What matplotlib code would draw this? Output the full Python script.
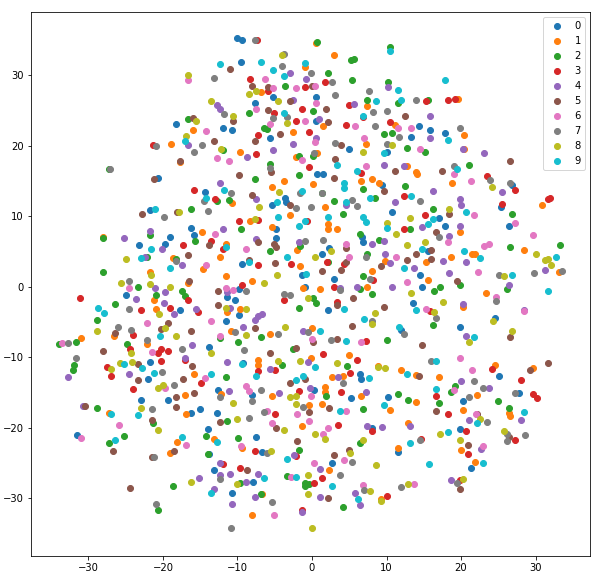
import matplotlib
matplotlib.use("Agg")
import matplotlib.pyplot as plt

labels = [str(i) for i in range(10)]

class0 = [(-10.0,35.3),(-9.4,35.0),(-9.5,31.9),(-7.6,26.1),(-5.2,27.0),(-18.2,23.1),(-11.9,22.5),(-10.7,22.2),(-5.7,21.1),(-20.6,15.4),(-14.3,13.4),(-5.3,11.6),(-3.6,12.6),(-3.5,12.0),(-21.7,10.9),(-16.2,8.3),(-15.8,7.4),(-19.0,7.0),(-19.7,6.1),(-23.2,5.9),(-4.8,8.2),(-4.8,6.9),(-9.4,3.2),(-1.3,1.7),(-1.0,0.0),
(-25.0,-1.2),(-9.8,-0.3),(-11.4,-1.5),(-10.3,-1.9),(-17.7,-3.3),(-9.8,-4.0),(-11.5,-4.9),(-13.8,-8.6),(-21.8,-10.7),(-22.0,-13.1),(-12.6,-14.7),(-8.1,-15.4),(-22.9,-16.1),(-19.3,-16.1),(-15.0,-17.4),(-16.3,-17.9),(-12.8,-17.9),(-13.9,-20.2),(-7.5,-21.3),(-13.8,-23.7),(-6.7,-23.5),(-13.2,-26.0),(-7.9,-27.7),(-10.7,-29.3),(-9.2,-10.8),(0.3,-14.7),(-31.5,-21.0),
(0.6,26.9),(0.6,23.6),(14.4,22.8),(15.9,22.2),(13.3,21.2),(17.8,21.8),(5.0,19.5),(10.1,19.1),(0.7,16.0),(1.5,16.0),(9.4,14.4),(10.8,10.6),(17.0,9.7),(17.8,8.7),(26.4,8.6),(25.3,11.3),(26.8,14.4),(6.7,7.0),(6.8,6.3),(1.3,4.6),(15.5,5.1),(2.9,1.1),(14.5,1.7),(2.3,5.5),
(2.1,-3.3),(14.8,0.0),(13.5,-2.3),(11.9,-6.1),(19.9,-5.7),(24.6,-4.4),(25.1,-12.7),(6.4,-12.4),(6.6,-13.1),(5.3,-15.8),(10.2,-15.7),(20.2,-16.2),(27.8,-15.1),(19.9,-20.2),(8.0,-20.1),(11.6,-23.5),(2.7,-25.0),(21.4,-25.7)]

class1 = [(-0.9,31.2),(-6.8,27.6),(-2.6,21.9),(-18.9,20.2),(-15.9,22.2),(-9.6,19.1),(-2.2,18.4),(-17.7,17.7),(-5.3,14.1),(-3.8,15.0),(0.2,14.6),(-10.7,11.9),(-3.0,10.2),(-8.3,9.3),(-5.4,8.5),(-14.7,7.8),(-28.1,7.0),(-11.5,6.1),(-12.4,4.3),(-18.7,4.1),(-2.0,5.2),(-1.6,2.9),(-21.7,2.1),(-14.6,2.5),(-11.5,1.5),(-8.1,0.8),(-16.7,0.5),
(-21.2,-1.9),(-20.9,-3.2),(-11.4,-3.6),(-9.6,-3.2),(-10.8,-6.3),(-31.0,-7.3),(-26.5,-7.0),(-22.1,-8.1),(-5.6,-6.7),(0.0,-5.9),(-0.1,-10.1),(-7.3,-10.4),(-7.3,-11.1),(-15.8,-12.4),(-12.2,-15.2),(-17.0,-15.4),(-5.3,-15.5),(-0.4,-16.8),(-27.2,-17.9),(-16.9,-18.1),(-1.4,-19.8),(-13.1,-21.6),(-18.1,-22.0),(-9.4,-22.9),(-19.1,-23.6),(-6.7,-29.4),(-8.0,-32.4),(-1.2,-0.2),
(0.6,34.6),(2.9,32.9),(7.4,25.6),(1.5,22.8),(11.1,22.9),(20.4,21.5),(7.2,20.2),(20.4,19.5),(0.7,19.0),(12.7,17.1),(14.0,16.3),(14.1,16.0),(6.6,15.0),(8.0,15.3),(9.0,14.8),(18.8,14.8),(1.8,11.3),(30.8,11.6),(19.6,26.6),(2.1,8.9),(2.1,8.2),(3.4,8.2),(19.8,7.8),(28.4,5.2),(21.5,4.6),(21.9,4.6),(18.7,4.3),(9.8,3.6),(15.3,3.5),(8.0,2.2),(15.5,0.9),(33.2,2.1),
(1.1,-0.3),(7.4,0.0),(23.4,-0.9),(20.2,-2.9),(5.0,-9.7),(8.9,-11.3),(12.0,-11.8),(14.0,-12.5),(17.0,-12.8),(24.5,-11.1),(29.7,-11.5),(4.1,-12.7),(2.7,-12.8),(1.8,-14.2),(1.8,-14.9),(6.6,-15.5),(1.4,-16.6),(10.4,-17.5),(14.0,-16.4),(22.2,-15.4),(20.3,-17.5),(26.4,-17.9),(26.6,-18.4),(12.9,-19.3),(11.5,-22.9),(20.0,-23.2),(2.3,-26.0),(21.9,-24.9),(9.3,-30.1)]

class2 = [(-3.6,28.5),(0.2,24.9),(-8.4,24.6),(-16.7,23.8),(-6.5,22.6),(-6.0,22.4),(-1.7,18.5),(0.2,18.5),(-12.0,19.4),(-5.7,17.4),(-27.2,16.7),(-7.7,15.3),(-1.7,15.8),(-12.7,12.2),(-11.2,12.3),(-16.3,11.0),(-9.5,8.2),(-21.8,7.3),(-28.1,6.9),(-15.7,6.5),(-5.7,5.1),(-1.6,5.8),(-22.1,4.2),(-18.2,3.9),(-28.1,2.1),
(-23.3,0.0),(-17.4,-0.6),(-17.1,-1.3),(-20.9,-1.2),(-26.4,-2.5),(-28.9,-4.7),(-1.8,-3.0),(0.2,-1.6),(-31.6,-7.8),(-34.0,-8.1),(-24.8,-8.1),(-6.9,-7.1),(-9.9,-7.8),(-12.4,-7.3),(-2.5,-8.8),(-4.0,-11.1),(-31.9,-11.1),(-32.0,-11.8),(-11.5,-12.8),(-28.9,-17.2),(-11.4,-19.1),(-21.3,-19.3),(-14.2,-21.2),(-25.2,-21.2),(-27.3,-22.2),(-9.9,-21.5),(-1.8,-23.2),(-14.0,-23.7),(-3.3,-26.9),(-9.6,-27.8),(-1.0,-27.9),(-0.9,-28.3),(-0.4,-28.0),(-18.6,-28.3),(-6.9,-29.4),(-20.6,-31.7),
(0.7,34.8),(10.5,34.0),(5.3,32.2),(5.7,32.3),(2.2,30.3),(5.4,29.3),(10.2,29.0),(7.4,26.5),(11.5,26.1),(15.6,26.5),(9.7,21.7),(10.8,21.8),(12.7,19.7),(15.2,19.2),(21.1,17.3),(12.5,14.3),(6.8,13.9),(1.3,13.3),(2.9,12.2),(8.4,12.6),(4.2,10.3),(16.2,11.0),(26.8,10.3),(13.1,8.2),(6.4,7.5),(9.0,6.6),(26.5,5.6),(33.3,5.9),(7.4,4.6),(2.2,3.5),(6.9,1.5),
(0.6,-2.3),(6.5,-0.3),(8.1,-1.0),(16.4,-0.6),(17.2,0.0),(19.9,0.3),(26.2,-0.3),(16.2,-5.4),(10.1,-7.6),(4.7,-11.3),(1.9,-15.5),(11.5,-15.2),(12.9,-16.1),(6.9,-17.4),(17.0,-16.5),(19.2,-14.1),(18.6,-14.9),(24.9,-16.2),(26.4,-17.2),(6.5,-22.2),(4.1,-31.3)]

class3 = [(-7.4,35.0),(-8.3,29.5),(-5.9,27.8),(-0.9,28.3),(-1.4,25.2),(-5.1,24.6),(-2.2,23.5),(-0.4,21.9),(-7.3,21.5),(-21.3,20.1),(-7.5,18.8),(-0.4,17.0),(-15.8,13.7),(-13.0,12.4),(-9.8,9.3),(-7.2,9.5),(-0.7,9.3),(-13.5,6.5),(-17.3,5.9),(-11.9,5.3),(-7.2,3.1),(-2.8,3.2),(-9.4,0.2),
(-31.1,-1.6),(-16.7,-1.8),(-19.1,-3.0),(-22.9,-3.3),(-15.3,-3.6),(-3.8,-1.9),(-24.0,-6.9),(-24.4,-8.8),(-20.2,-8.8),(-20.6,-9.4),(-19.3,-9.1),(-20.2,-10.5),(-27.5,-11.4),(-26.9,-12.7),(-17.0,-10.4),(-7.2,-12.0),(-4.9,-11.8),(-14.9,-13.7),(-24.0,-14.5),(-1.8,-14.8),(-4.9,-18.1),(-11.9,-25.2),(-7.6,-23.3),(-2.2,-24.0),(-9.6,-25.7),(0.3,-27.9),(-1.4,-31.7),
(1.8,29.0),(4.9,25.8),(15.3,26.3),(18.3,26.5),(19.2,26.6),(6.8,24.1),(10.4,23.4),(4.5,22.9),(23.5,15.7),(6.6,16.1),(27.3,13.7),(12.4,12.9),(31.6,12.4),(31.9,12.6),(25.5,11.7),(15.1,10.2),(12.4,8.2),(2.0,3.5),(4.3,3.2),(8.2,0.9),
(2.9,0.0),(3.4,-2.2),(15.9,-3.4),(1.5,-9.6),(6.1,-10.4),(7.2,-7.7),(5.1,-12.2),(3.9,-14.9),(16.7,-15.5),(24.2,-11.7),(28.0,-13.2),(29.6,-15.2),(30.2,-15.8),(18.2,-18.1),(3.5,-19.6),(8.0,-20.5),(20.6,-20.5),(27.2,-21.8),(14.6,-21.6),(20.9,-23.7),(1.3,-27.1),(19.9,-27.4),(10.1,-29.7)]

class4 = [(-2.9,30.3),(-0.8,29.5),(-2.5,26.5),(-12.7,25.8),(-12.3,25.2),(-16.7,20.1),(-2.5,20.2),(-5.2,19.4),(-8.7,18.4),(-12.4,14.7),(-7.5,12.4),(-21.8,7.9),(-25.2,6.9),(-11.9,8.2),(-7.5,6.8),(-1.7,6.3),(-20.1,5.3),(-22.4,4.3),(-17.4,3.1),
(-21.0,-0.2),(-19.7,-0.8),(-11.4,-0.8),(-23.6,-1.7),(-19.8,-2.3),(-11.0,-3.0),(-15.5,-3.2),(-18.5,-3.9),(-6.7,-3.9),(-7.2,-4.2),(-7.7,-4.7),(-9.2,-5.7),(-1.2,-6.3),(-16.1,-8.3),(-17.1,-10.1),(-11.4,-10.7),(-0.6,-10.7),(-5.6,-11.7),(-24.5,-12.4),(-32.8,-12.8),(-11.1,-14.8),(-4.4,-15.1),(-30.7,-16.9),(-12.4,-25.0),(-2.4,-23.9),(-15.1,-27.1),(-12.4,-26.7),(-11.0,-26.6),(-7.2,-26.6),(-8.8,-27.7),(-13.2,-28.7),(-7.6,-29.8),(-10.7,-30.8),(-1.4,-32.0),
(5.7,25.9),(10.2,28.3),(0.9,23.8),(15.9,24.3),(15.9,21.1),(0.6,21.1),(20.3,19.5),(23.1,19.0),(9.6,17.3),(12.4,17.1),(16.3,13.6),(25.5,13.4),(19.8,12.4),(20.0,11.6),(11.2,12.0),(4.5,11.6),(14.8,8.5),(19.8,8.6),(18.4,7.2),(8.1,6.1),(9.6,6.5),(9.8,4.6),(10.5,3.4),(17.6,3.6),(20.7,3.5),(13.7,2.6),(31.2,2.4),(18.4,1.9),
(6.0,0.0),(3.8,-0.2),(10.8,0.0),(26.4,0.2),(20.3,-2.5),(28.4,-3.3),(20.7,-7.0),(3.5,-12.8),(20.0,-13.4),(23.8,-14.4),(7.3,-14.9),(21.0,-18.9),(28.0,-18.9),(13.2,-19.8),(7.4,-19.8),(9.4,-19.9),(22.7,-23.0),(1.1,-25.9),(18.6,-27.4),(5.8,-29.3),(1.1,-29.8),(6.5,-31.0),(-0.3,-14.4)]

class5 = [(-11.0,30.9),(-8.0,28.5),(-5.9,28.3),(0.0,28.5),(-3.0,26.3),(-5.9,25.1),(-15.9,23.9),(-10.6,23.5),(-4.3,21.7),(-7.7,20.7),(-13.1,20.7),(-17.7,17.8),(-5.5,16.3),(-9.8,15.8),(-21.2,15.3),(-8.0,13.1),(-3.0,11.6),(-22.8,10.4),(-18.1,10.6),(-7.3,6.3),(-5.1,6.1),(-4.8,5.6),(-13.8,5.9),(-16.6,4.5),(-4.9,3.4),(-8.5,3.8),(-16.5,0.8),
(-12.6,-0.6),(-12.6,-2.6),(-19.3,-5.2),(-20.2,-6.0),(-16.2,-6.3),(-7.6,-5.9),(-26.4,-6.6),(-28.1,-9.1),(-5.7,-9.4),(-2.1,-8.7),(-23.3,-11.0),(-16.1,-11.3),(-23.3,-13.2),(-17.3,-13.1),(-0.9,-13.1),(-3.0,-13.7),(-18.3,-15.7),(-15.8,-15.1),(-18.2,-17.1),(-30.4,-16.9),(-21.4,-18.9),(-0.4,-17.8),(-4.8,-20.1),(-2.0,-21.9),(-18.5,-23.3),(-21.4,-24.2),(-26.7,-23.3),(-12.3,-19.2),(-8.7,-26.0),(-24.4,-28.6),(0.2,-7.9),
(1.9,25.3),(2.2,23.4),(12.5,24.2),(3.9,20.1),(3.1,18.1),(3.0,15.4),(11.1,16.5),(17.5,16.5),(26.5,17.8),(9.7,13.6),(18.4,10.4),(16.7,7.8),(16.0,5.2),(14.0,4.6),(12.7,3.8),(16.0,3.9),(4.6,5.5),(4.6,3.5),(9.3,2.9),(3.9,2.4),(1.4,2.2),(19.5,0.8),
(3.3,-2.6),(5.5,-1.6),(9.6,-2.9),(5.4,-5.6),(3.4,-7.4),(14.8,-8.3),(26.6,-7.1),(31.7,-10.8),(29.2,-11.8),(14.4,-12.7),(16.7,-17.6),(2.3,-17.2),(22.1,-18.1),(26.4,-21.3),(20.9,-22.5),(2.9,-23.9),(4.9,-23.2),(2.2,-30.0),(19.8,-28.7)]

class6 = [(-16.7,29.3),(-6.3,29.5),(-5.2,28.2),(-2.2,28.2),(0.4,28.5),(-7.5,25.2),(-1.0,23.6),(-5.6,23.1),(-14.2,22.1),(-12.8,18.3),(-11.1,17.8),(-1.3,18.0),(-13.0,7.5),(-8.9,5.3),(-14.2,3.1),(0.4,20.5),
(-24.5,-0.2),(-11.6,-0.2),(-10.6,-0.5),(-22.2,-5.2),(-13.6,-4.9),(-33.5,-8.0),(-12.3,-7.0),(-21.4,-9.3),(0.0,-7.4),(-14.3,-13.0),(-19.7,-14.4),(-8.8,-14.1),(-8.4,-14.8),(-0.1,-15.5),(-6.0,-17.6),(-2.0,-18.1),(-5.3,-19.3),(-0.4,-19.1),(-25.9,-19.6),(-31.0,-21.5),(-16.9,-22.5),(-9.5,-22.6),(0.3,-25.0),(-2.8,-27.0),(-5.1,-32.4),
(0.6,26.1),(5.8,22.8),(11.6,22.6),(13.3,22.6),(7.0,21.1),(14.5,19.5),(7.3,17.1),(19.1,16.0),(21.3,15.0),(21.8,10.2),(27.2,9.0),(29.7,7.3),(23.1,5.8),(23.8,6.1),(18.2,6.3),(4.5,6.1),(4.9,4.3),(11.3,4.3),(22.3,2.1),(12.7,0.7),
(24.7,-1.5),(15.3,-3.2),(28.4,-3.5),(6.6,-7.9),(19.9,-10.1),(21.5,-11.8),(19.1,-14.7),(4.5,-17.6),(22.0,-18.1),(2.2,-20.1),(1.5,-20.9),(22.9,-22.6),(4.3,-24.6),(6.8,-28.1),(13.7,-28.0)]

class7 = [(-7.7,35.0),(-3.8,33.1),(-4.0,31.4),(-0.1,30.3),(-13.1,29.7),(-11.8,24.5),(-5.2,23.9),(-3.4,24.1),(-14.7,20.1),(-20.9,20.0),(-15.8,19.1),(-5.7,16.8),(-10.8,13.3),(-1.6,13.3),(-14.5,12.2),(-14.0,10.7),(-2.1,11.2),(-0.2,11.3),(-19.8,9.9),(-1.0,6.5),(-18.2,3.6),(-24.5,0.8),(0.3,19.0),(-27.1,16.7),
(-8.9,-0.6),(-3.7,-1.0),(-2.9,-1.2),(-24.5,-3.2),(-26.0,-5.7),(-24.3,-6.1),(-10.3,-6.4),(-0.6,-6.4),(-4.5,-6.7),(-32.7,-8.0),(-22.2,-7.6),(-17.4,-8.8),(-9.1,-9.0),(-31.6,-10.1),(-20.1,-12.1),(-18.5,-14.0),(-6.8,-14.7),(-12.3,-15.7),(-8.0,-16.2),(-21.4,-17.4),(-6.4,-17.8),(-1.2,-17.1),(-8.5,-18.6),(-6.0,-23.6),(-21.2,-24.2),(-12.3,-27.3),(-20.9,-30.8),(-5.3,-30.5),(-10.8,-34.2),
(2.7,29.0),(7.6,27.8),(3.1,27.2),(13.9,26.5),(8.2,24.8),(10.0,24.9),(8.4,22.8),(19.8,22.5),(11.7,21.2),(3.1,20.4),(10.0,20.2),(19.1,17.1),(23.9,15.1),(26.6,14.8),(1.4,13.3),(5.4,12.3),(6.0,11.4),(14.5,12.2),(17.0,7.0),(1.5,6.6),(7.3,4.3),(25.1,1.7),(29.8,1.9),(33.5,2.2),(7.8,1.1),
(3.8,-0.5),(24.7,-2.0),(16.7,-4.4),(8.0,-4.9),(12.4,-6.7),(2.6,-7.6),(16.0,-10.5),(21.8,-13.4),(23.0,-14.4),(27.2,-15.1),(21.1,-15.7),(4.2,-13.7),(23.5,-19.2),(26.1,-20.9),(26.1,-21.9),(28.6,-21.0),(14.5,-21.8),(5.4,-24.9),(3.8,-26.7),(19.4,-27.8),(7.0,-28.8),(12.0,-28.4)]

class8 = [(-4.0,32.9),(-16.6,30.0),(-7.5,27.8),(-8.4,27.3),(-4.5,26.3),(-13.6,26.3),(-10.6,24.3),(-15.5,23.6),(-3.4,23.2),(-16.9,21.4),(-12.2,19.5),(-4.4,13.4),(-7.1,11.3),(-17.9,10.6),(-7.6,9.6),(-24.9,3.9),(0.4,4.3),(-21.6,1.7),(-4.7,1.7),(-6.4,0.5),(-25.6,0.5),(-21.7,0.4),
(-19.0,0.0),(-0.6,-1.6),(-11.5,-3.0),(-8.8,-3.2),(-20.5,-3.9),(-28.8,-6.3),(-19.7,-5.9),(-18.2,-7.0),(-8.8,-6.9),(-3.6,-5.7),(-24.3,-9.4),(-13.6,-9.4),(-1.6,-10.5),(-4.5,-10.5),(-25.7,-10.8),(-24.1,-10.7),(-26.9,-11.7),(-20.6,-14.4),(-20.0,-14.0),(-3.0,-15.7),(-2.1,-15.5),(-2.1,-16.6),(-10.6,-16.5),(-22.9,-17.2),(-10.0,-18.8),(-20.6,-20.3),(-3.8,-20.3),(0.4,-20.9),(-5.5,-23.3),(-16.3,-27.7),(-10.0,-28.0),(-0.5,-26.7),(-0.5,-29.4),(0.0,-34.2),
(10.8,20.1),(6.9,19.2),(24.2,14.1),(18.4,11.0),(13.1,9.7),(10.1,9.0),(11.3,7.5),(15.2,6.3),(12.7,5.9),(2.6,5.1),(30.1,4.6),(31.3,3.8),(31.7,3.9),(32.1,3.1),(25.7,1.5),
(13.3,-0.9),(17.6,-2.2),(16.4,-3.6),(8.5,-3.7),(8.1,-5.3),(24.3,-4.9),(26.9,-6.3),(21.1,-7.9),(3.4,-10.8),(8.8,-11.4),(9.8,-11.5),(22.6,-18.8),(25.8,-20.5),(17.2,-20.9),(1.8,-21.6),(6.8,-21.8),(19.8,-21.8),(5.1,-23.6),(8.6,-25.3),(20.2,-27.3),(12.9,-28.0),(7.8,-29.0),(9.3,-30.4)]

class9 = [(-12.4,31.6),(-6.9,31.9),(-5.2,30.7),(-3.8,29.9),(-0.9,31.7),(-3.7,24.6),(-17.1,20.7),(-11.8,13.7),(-14.2,12.6),(-1.4,13.6),(-4.7,12.0),(-21.0,11.0),(-4.5,9.9),(-0.9,9.3),(-1.7,8.7),(-21.6,5.3),(-23.0,4.1),(-11.5,5.6),(-3.3,4.2),(-8.5,3.5),(-19.0,2.6),(-0.8,1.8),
(-28.7,-3.0),(-27.9,-3.7),(-20.4,-7.0),(-25.2,-11.0),(-22.8,-11.5),(-21.2,-12.3),(-9.4,-11.0),(-13.6,-12.4),(-7.5,-12.7),(-2.1,-13.2),(-1.2,-12.7),(0.4,-11.4),(-26.9,-18.1),(-23.4,-18.2),(-17.4,-21.3),(-26.4,-21.8),(-12.8,-22.0),(-3.3,-24.4),(-6.5,-27.1),(-2.1,-27.0),(-13.6,-29.3),
(17.9,29.3),(10.4,33.4),(11.5,27.9),(8.6,26.3),(12.0,26.5),(6.9,24.2),(18.2,20.9),(9.6,19.0),(3.4,17.3),(6.1,16.5),(19.5,16.7),(4.3,14.7),(4.3,14.0),(13.3,12.9),(7.8,12.6),(4.5,12.0),(20.6,10.6),(2.1,9.9),(6.9,9.9),(7.3,9.2),(16.2,9.6),(15.6,8.9),(10.1,8.3),(20.4,5.1),(14.7,5.3),(22.5,4.1),(32.8,4.3),(12.3,2.6),(26.8,1.7),
(31.7,-0.6),(4.3,-3.2),(13.9,-3.3),(7.0,-4.6),(11.7,-5.7),(1.1,-6.2),(4.5,-7.7),(21.8,-7.1),(16.6,-10.5),(7.7,-13.0),(12.7,-12.4),(16.6,-14.5),(9.7,-16.8),(3.8,-17.6),(28.4,-17.8),(22.1,-19.3),(18.3,-20.6),(13.1,-22.2),(22.9,-25.0),(15.7,-25.2),(2.7,-28.3),(6.2,-30.1)]

classes = [class0, class1, class2, class3, class4, class5, class6, class7, class8, class9]

W, H, DPI = 609, 579, 72
fig = plt.figure(figsize=(W / DPI, H / DPI), dpi=DPI, facecolor="white")
ax = fig.add_axes([31 / W, 1 - 556 / H, (590 - 31) / W, (556 - 12) / H])
for label, pts in zip(labels, classes):
    ax.scatter([p[0] for p in pts], [p[1] for p in pts], label=label)
ax.set_xlim(-37.7, 37.3)
ax.set_ylim(-38.2, 39.0)
ax.set_xticks([-30, -20, -10, 0, 10, 20, 30])
ax.set_yticks([-30, -20, -10, 0, 10, 20, 30])
ax.legend(loc="upper right")
fig.savefig("out.png", dpi=DPI)
